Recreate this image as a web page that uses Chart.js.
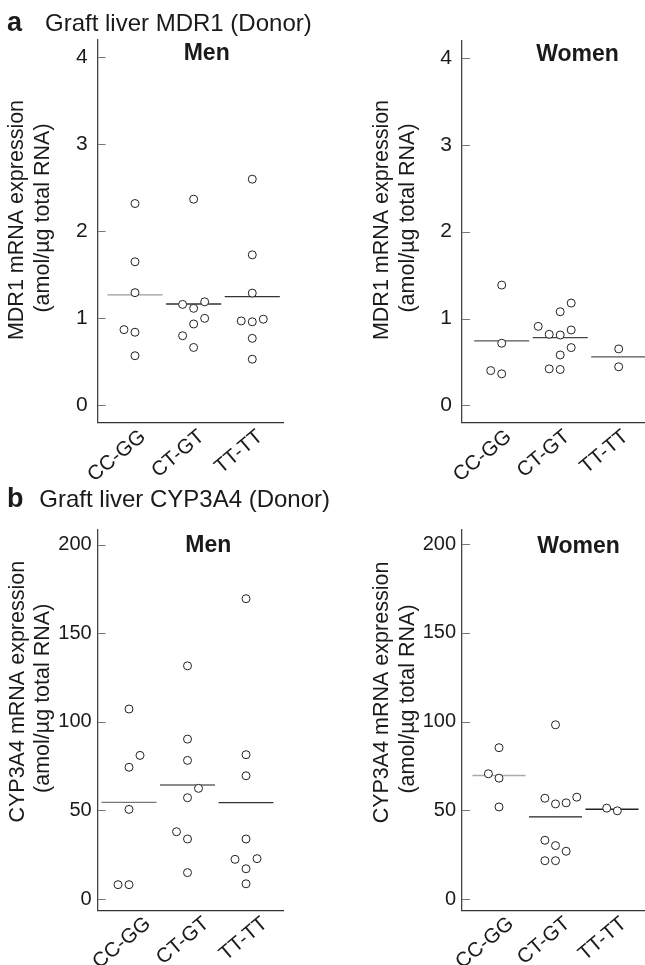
<!DOCTYPE html>
<html>
<head>
<meta charset="utf-8">
<script src="https://cdn.jsdelivr.net/npm/chart.js@4.4.0/dist/chart.umd.min.js"></script>
<style>
  body { margin: 0; background: #fff; }
  #page { position: relative; width: 645px; height: 965px; overflow: hidden; }
  canvas { position: absolute; }
  svg { position: absolute; left: 0; top: 0; pointer-events: none; }
  svg text { font-family: 'Liberation Sans', Arial, sans-serif; fill: #1a1a1a; }
</style>
</head>
<body>
<div id="page">
  <canvas id="mdr1-men" width="320" height="500" style="left:0;top:0"></canvas>
  <canvas id="mdr1-women" width="325" height="500" style="left:320px;top:0"></canvas>
  <canvas id="cyp-men" width="320" height="485" style="left:0;top:480px"></canvas>
  <canvas id="cyp-women" width="325" height="485" style="left:320px;top:480px"></canvas>
  <svg width="645" height="965">
    <text x="7" y="30.5" font-size="27" font-weight="bold">a</text>
    <text x="45" y="30.5" font-size="24">Graft liver MDR1 (Donor)</text>
    <text x="206.7" y="60" font-size="23" font-weight="bold" text-anchor="middle">Men</text>
    <text x="577.5" y="61" font-size="23" font-weight="bold" text-anchor="middle">Women</text>
    <text x="7" y="507" font-size="27" font-weight="bold">b</text>
    <text x="39.3" y="507" font-size="24">Graft liver CYP3A4 (Donor)</text>
    <text x="208.3" y="551.7" font-size="23" font-weight="bold" text-anchor="middle">Men</text>
    <text x="578.5" y="553" font-size="23" font-weight="bold" text-anchor="middle">Women</text>
  </svg>
</div>
<script>
// genotype groups on the x axis
const genotypes = ['CC-GG', 'CT-GT', 'TT-TT'];
const mdr1Ticks = [0, 1, 2, 3, 4];
const cypTicks = [0, 50, 100, 150, 200];

// MDR1, men: one list per genotype, plus side-by-side slot of each circle
const mdr1Men = [
    [2.32, 1.65, 1.295, 0.87, 0.84, 0.57],
    [2.37, 1.16, 1.19, 1.115, 1.0, 0.935, 0.80, 0.665],
    [2.60, 1.73, 1.29, 0.97, 0.96, 0.99, 0.77, 0.53]
];
const mdr1MenSlots = [
    [0, 0, 0, -1, 0, 0],
    [0, -1, 1, 0, 1, 0, -1, 0],
    [0, 0, 0, -1, 0, 1, 0, 0]
];
const mdr1MenMeans = [1.27, 1.165, 1.25];

// MDR1, women
const mdr1Women = [
    [1.385, 0.715, 0.40, 0.363],
    [1.178, 1.078, 0.91, 0.868, 0.818, 0.81, 0.665, 0.58, 0.42, 0.413],
    [0.65, 0.444]
];
const mdr1WomenSlots = [
    [0, 0, -1, 0],
    [1, 0, -2, 1, -1, 0, 1, 0, -1, 0],
    [0, 0]
];
const mdr1WomenMeans = [0.742, 0.78, 0.558];

// CYP3A4, men
const cypMen = [
    [107.3, 81.1, 74.4, 50.6, 8.1, 8.1],
    [131.7, 90.3, 78.3, 62.5, 57.2, 38.0, 33.9, 14.9],
    [169.6, 81.5, 69.6, 33.9, 22.4, 22.8, 17.1, 8.6]
];
const cypMenSlots = [
    [0, 1, 0, 0, -1, 0],
    [0, 0, 0, 1, 0, -1, 0, 0],
    [0, 0, 0, 0, -1, 1, 0, 0]
];
const cypMenMeans = [54.6, 64.4, 54.4];

// CYP3A4, women
const cypWomen = [
    [85.3, 70.6, 68.1, 51.9],
    [98.2, 56.8, 53.6, 54.2, 57.4, 33.1, 30.1, 26.9, 21.6, 21.6],
    [51.2, 49.7]
];
const cypWomenSlots = [
    [0, -1, 0, 0],
    [0, -1, 0, 1, 2, -1, 0, 1, -1, 0],
    [-0.5, 0.5]
];
const cypWomenMeans = [69.6, 46.3, 50.6];

const FONT = "'Liberation Sans', Arial, sans-serif";
const SLOT = 0.188;      // horizontal step between side-by-side circles
const HALF_LINE = 0.47;  // half length of the mean bar
Chart.defaults.font.family = FONT;
Chart.defaults.color = '#1a1a1a';

// short tick marks pointing into the plot
const innerTicks = {
    id: 'innerTicks',
    afterDraw(chart) {
        const ctx = chart.ctx;
        const y = chart.scales.y;
        const left = chart.chartArea.left;
        ctx.save();
        ctx.strokeStyle = '#777';
        ctx.lineWidth = 1;
        y.ticks.forEach(t => {
            const py = Math.round(y.getPixelForValue(t.value)) + 0.5;
            ctx.beginPath();
            ctx.moveTo(left, py);
            ctx.lineTo(left + 8, py);
            ctx.stroke();
        });
        ctx.restore();
    }
};

// two-line rotated y title
function yTitle(lines, xs, ys) {
    return {
        id: 'yTitle',
        afterDraw(chart) {
            const ctx = chart.ctx;
            ctx.save();
            ctx.font = '21.5px ' + FONT;
            ctx.fillStyle = '#1a1a1a';
            ctx.textAlign = 'center';
            ctx.textBaseline = 'middle';
            lines.forEach((line, i) => {
                ctx.save();
                ctx.translate(xs[i], ys[i]);
                ctx.rotate(-Math.PI / 2);
                ctx.fillText(line, 0, 0);
                ctx.restore();
            });
            ctx.restore();
        }
    };
}

function makePanel(id, p) {
    const datasets = [];
    p.values.forEach((vals, c) => {
        datasets.push({
            type: 'scatter',
            data: vals.map((v, i) => ({ x: c + 1 + p.slots[c][i] * SLOT, y: v })),
            pointRadius: 4,
            pointBorderWidth: 1,
            pointBorderColor: '#222',
            pointBackgroundColor: '#fff'
        });
        datasets.push({
            type: 'line',
            data: [
                { x: c + 1 - HALF_LINE, y: p.means[c] },
                { x: c + 1 + HALF_LINE, y: p.means[c] }
            ],
            borderColor: p.lineColors[c],
            borderWidth: 1.3,
            pointRadius: 0
        });
    });

    new Chart(document.getElementById(id), {
        type: 'scatter',
        data: { datasets: datasets },
        options: {
            responsive: false,
            animation: false,
            events: [],
            layout: {
                autoPadding: false,
                padding: { left: 0, top: p.top, right: p.right, bottom: 0 }
            },
            plugins: {
                legend: { display: false },
                tooltip: { enabled: false }
            },
            scales: {
                x: {
                    type: 'linear',
                    min: p.xRange[0],
                    max: p.xRange[1],
                    afterBuildTicks: s => { s.ticks = genotypes.map((g, i) => ({ value: i + 1 })); },
                    afterFit: s => {
                        s.height = p.xHeight;
                        s.paddingLeft = 0;
                        s.paddingRight = 0;
                    },
                    grid: { display: false, drawTicks: false },
                    border: { display: true, color: '#333', width: 1.3 },
                    ticks: {
                        autoSkip: false,
                        minRotation: 40,
                        maxRotation: 40,
                        padding: p.labelPad,
                        labelOffset: p.labelShift,
                        color: '#1a1a1a',
                        font: { size: 20.5 },
                        callback: v => genotypes[Math.round(v) - 1]
                    }
                },
                y: {
                    min: p.yRange[0],
                    max: p.yRange[1],
                    afterBuildTicks: s => { s.ticks = p.yTicks.map(v => ({ value: v })); },
                    afterFit: s => {
                        s.width = p.yWidth;
                        s.paddingTop = 0;
                        s.paddingBottom = 0;
                    },
                    grid: { display: false, drawTicks: false },
                    border: { display: true, color: '#444', width: 1.3 },
                    ticks: {
                        padding: p.tickPad,
                        color: '#1a1a1a',
                        font: { size: p.tickSize }
                    }
                }
            }
        },
        plugins: [innerTicks, yTitle(p.title, p.titleX, p.titleY)]
    });
}

makePanel('mdr1-men', {
    values: mdr1Men, slots: mdr1MenSlots, means: mdr1MenMeans,
    lineColors: ['#9a9a9a', '#333', '#333'],
    xRange: [0.364, 3.524], yRange: [-0.2, 4.2], yTicks: mdr1Ticks,
    top: 40, right: 37, yWidth: 97.7, xHeight: 77.3, tickPad: 10, tickSize: 21,
    labelPad: 2, labelShift: 8,
    title: ['MDR1 mRNA expression', '(amol/\u00b5g total RNA)'],
    titleX: [16.7, 43], titleY: [220, 218]
});

makePanel('mdr1-women', {
    values: mdr1Women, slots: mdr1WomenSlots, means: mdr1WomenMeans,
    lineColors: ['#555', '#444', '#555'],
    xRange: [0.321, 3.45], yRange: [-0.2, 4.2], yTicks: mdr1Ticks,
    top: 40.7, right: 0, yWidth: 142, xHeight: 77.3, tickPad: 10, tickSize: 21,
    labelPad: 2, labelShift: 7,
    title: ['MDR1 mRNA expression', '(amol/\u00b5g total RNA)'],
    titleX: [61.7, 88.5], titleY: [220, 218]
});

makePanel('cyp-men', {
    values: cypMen, slots: cypMenSlots, means: cypMenMeans,
    lineColors: ['#777', '#666', '#333'],
    xRange: [0.465, 3.632], yRange: [-6.6, 208.4], yTicks: cypTicks,
    top: 50, right: 37, yWidth: 97.7, xHeight: 54.3, tickPad: 6, tickSize: 20,
    labelPad: 1, labelShift: 19,
    title: ['CYP3A4 mRNA expression', '(amol/\u00b5g total RNA)'],
    titleX: [18, 43], titleY: [211.7, 218.3]
});

makePanel('cyp-women', {
    values: cypWomen, slots: cypWomenSlots, means: cypWomenMeans,
    lineColors: ['#aaa', '#222', '#222'],
    xRange: [0.345, 3.584], yRange: [-6.6, 208.4], yTicks: cypTicks,
    top: 49.3, right: 0, yWidth: 142, xHeight: 54.3, tickPad: 6, tickSize: 20,
    labelPad: 1, labelShift: 12,
    title: ['CYP3A4 mRNA expression', '(amol/\u00b5g total RNA)'],
    titleX: [61.7, 88.5], titleY: [212.5, 219]
});
</script>
</body>
</html>
